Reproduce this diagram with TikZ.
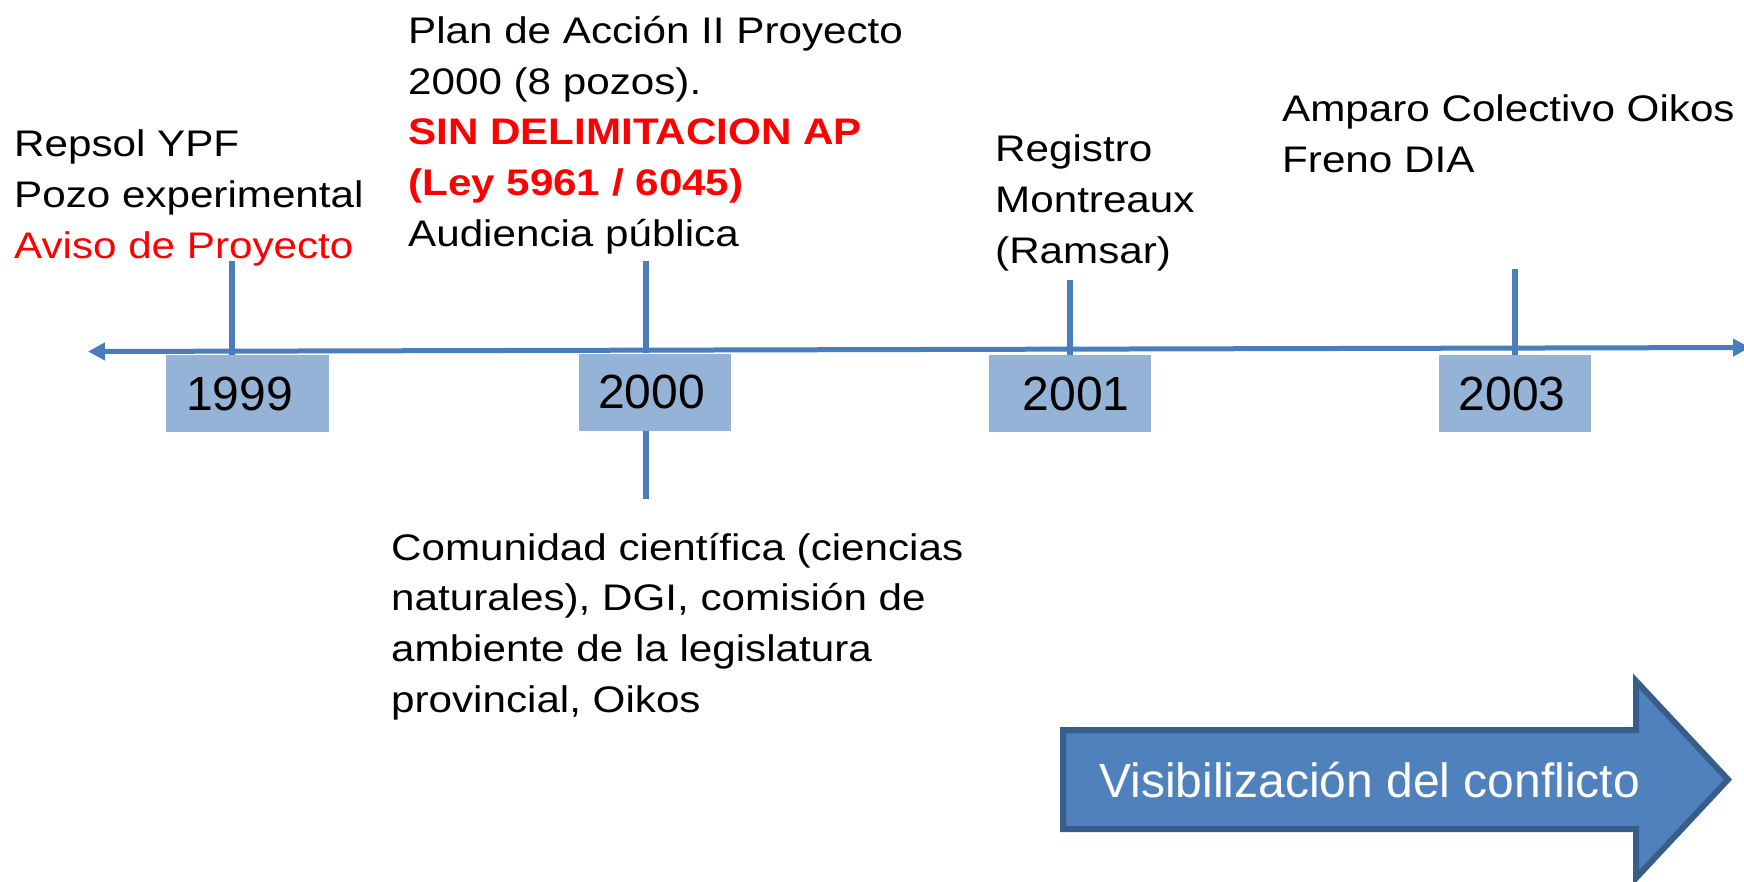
\documentclass[tikz,border=0pt]{standalone}
\usepackage{fontspec}
\setmainfont{Liberation Sans}
\newfontfamily\lblfont{Liberation Sans}[FakeStretch=1.14]
\usetikzlibrary{arrows.meta}
\definecolor{axisblue}{HTML}{4A7EBB}
\definecolor{boxblue}{HTML}{95B3D7}
\definecolor{bigfill}{HTML}{4F81BD}
\definecolor{bigdraw}{HTML}{385D8A}
\definecolor{alertred}{HTML}{FF0000}
\begin{document}
\begin{tikzpicture}[x=1pt,y=-1pt,
  lbl/.style={anchor=base west, inner sep=0pt, align=left, font=\lblfont\fontsize{37}{50.6}\selectfont},
  yearbox/.style={fill=boxblue, inner sep=0pt, minimum width=163pt, minimum height=77pt, font=\fontsize{48}{58}\selectfont},
  tickline/.style={draw=axisblue, line width=6.5pt},
  axisline/.style={draw=axisblue, line width=5pt, {Triangle[length=17pt,width=17pt]}-{Triangle[length=17pt,width=17pt]}},
  bigarrow/.style={draw=bigdraw, fill=bigfill, line width=6pt, line join=miter}
]
\useasboundingbox (0,0) rectangle (1744,881);
\clip (0,0) rectangle (1744,881);

% timeline axis
\coordinate (axL) at (88,351.5);
\coordinate (axR) at (1750,347.5);
\draw[axisline] (axL) -- (axR);

% year boxes
\node[yearbox] (b1999) at (247.5,393.5) {\kern-16pt 1999};
\node[yearbox, minimum width=152pt] (b2000) at (655,392) {\kern-7pt 2000};
\node[yearbox, minimum width=162pt] (b2001) at (1070,393.5) {2001\kern-12pt};
\node[yearbox, minimum width=152pt] (b2003) at (1514.5,393.5) {\kern-5pt 2003};

% ticks
\coordinate (k1999) at (232,261);
\coordinate (k2000) at (646,261);
\coordinate (k2000b) at (646,499);
\coordinate (k2001) at (1070,280);
\coordinate (k2003) at (1515,269);
\draw[tickline] (k1999) -- (k1999 |- b1999.north);
\draw[tickline] (k2000) -- (k2000 |- b2000.north);
\draw[tickline] (k2000 |- b2000.south) -- (k2000b);
\draw[tickline] (k2001) -- (k2001 |- b2001.north);
\draw[tickline] (k2003) -- (k2003 |- b2003.north);

% labels (anchor = baseline of last line)
\node[lbl] (n1999) at (14,258) {Repsol YPF\\Pozo experimental\\\textcolor{alertred}{Aviso de Proyecto}};
\node[lbl] (n2000a) at (408,246) {Plan de Acción II Proyecto\\2000 (8 pozos).\\\textcolor{alertred}{\bfseries SIN DELIMITACION AP}\\\textcolor{alertred}{\bfseries (Ley 5961 / 6045)}\\Audiencia pública};
\node[lbl] (n2000b) at (391,712) {Comunidad científica (ciencias\\naturales), DGI, comisión de\\ambiente de la legislatura\\provincial, Oikos};
\node[lbl] (n2001) at (995,263) {Registro\\Montreaux\\(Ramsar)};
\node[lbl] (n2003) at (1282,172) {Amparo Colectivo Oikos\\Freno DIA};

% big arrow
\draw[bigarrow] (1063,730) -- (1636,730) -- (1636,681) -- (1728,779.5) -- (1636,878) -- (1636,829) -- (1063,829) -- cycle;
\node[anchor=base west, inner sep=0pt, text=white, font=\fontsize{48}{58}\selectfont] (vis) at (1099,797) {Visibilización del conflicto};
\end{tikzpicture}
\end{document}
